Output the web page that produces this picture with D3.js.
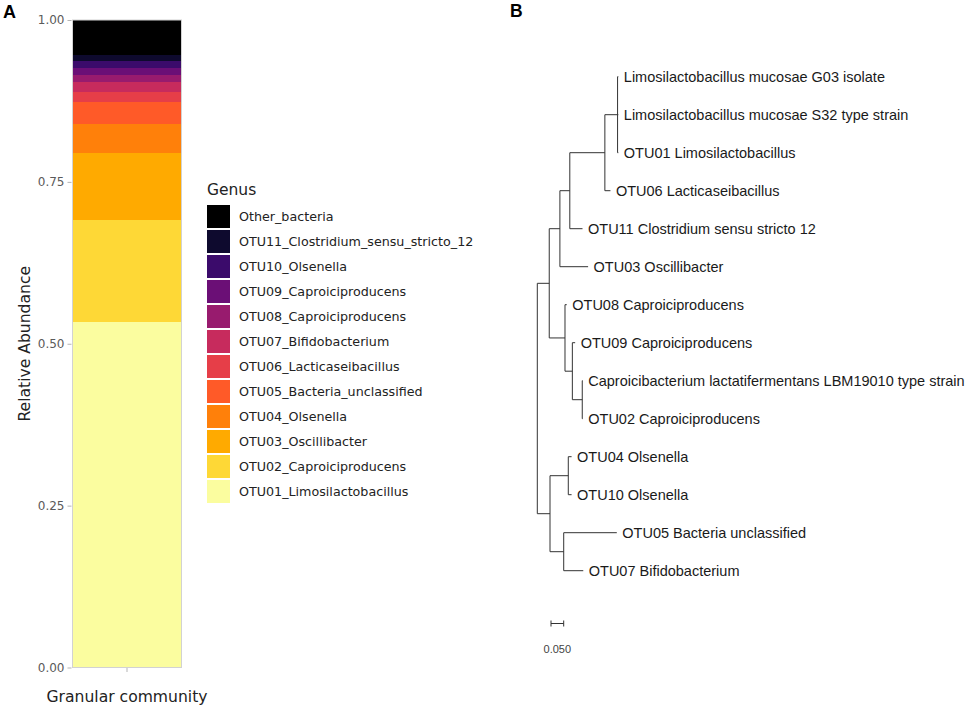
<!DOCTYPE html>
<html>
<head>
<meta charset="utf-8">
<script src="https://cdn.jsdelivr.net/npm/d3@7"></script>
<style>
  body { margin: 0; background: #fff; }
  svg { display: block; }
</style>
</head>
<body>
<svg id="chart" width="969" height="707"></svg>
<script>
// panel A: stacked relative abundance, bottom to top
var genera = ["OTU01_Limosilactobacillus", "OTU02_Caproiciproducens", "OTU03_Oscillibacter",
  "OTU04_Olsenella", "OTU05_Bacteria_unclassified", "OTU06_Lacticaseibacillus",
  "OTU07_Bifidobacterium", "OTU08_Caproiciproducens", "OTU09_Caproiciproducens",
  "OTU10_Olsenella", "OTU11_Clostridium_sensu_stricto_12", "Other_bacteria"];
var abundance = [0.533, 0.158, 0.103, 0.045, 0.034, 0.0155, 0.0155, 0.0114, 0.0108, 0.0102, 0.0088, 0.0556];
var palette = ["#fbfd9f", "#fed836", "#ffaa00", "#ff800a", "#ff5a28", "#e63e48",
  "#c72b5d", "#981b6e", "#6b0f76", "#3b0b6b", "#0e0a2e", "#000000"];
var yTicks = [0, 0.25, 0.5, 0.75, 1];
var sampleName = "Granular community";

// panel B: tree as [id, parent, branch length]
var treeNodes = [
  ["root", "", 0],
  ["A", "root", 0.047],
  ["B", "A", 0.042],
  ["C", "B", 0.039],
  ["D", "C", 0.138],
  ["E", "D", 0.050],
  ["Limosilactobacillus mucosae G03 isolate", "E", 0.003],
  ["Limosilactobacillus mucosae S32 type strain", "E", 0.003],
  ["OTU01 Limosilactobacillus", "E", 0.003],
  ["OTU06 Lacticaseibacillus", "D", 0.022],
  ["OTU11 Clostridium sensu stricto 12", "C", 0.050],
  ["OTU03 Oscillibacter", "B", 0.111],
  ["F", "A", 0.062],
  ["OTU08 Caproiciproducens", "F", 0.007],
  ["G", "F", 0.029],
  ["OTU09 Caproiciproducens", "G", 0.011],
  ["H", "G", 0.039],
  ["Caproicibacterium lactatifermentans LBM19010 type strain", "H", 0.002],
  ["OTU02 Caproiciproducens", "H", 0.002],
  ["I", "root", 0.050],
  ["J", "I", 0.072],
  ["OTU04 Olsenella", "J", 0.013],
  ["OTU10 Olsenella", "J", 0.013],
  ["K", "I", 0.054],
  ["OTU05 Bacteria unclassified", "K", 0.209],
  ["OTU07 Bifidobacterium", "K", 0.077]
];
var scaleBarLength = 0.05;

var svg = d3.select("#chart");
svg.append("rect").attr("width", 969).attr("height", 707).attr("fill", "#fff");

// ---------- panel A ----------
var sansA = "DejaVu Sans, sans-serif";
var x = d3.scaleBand().domain([sampleName]).range([72.5, 181.5]).padding(0);
var y = d3.scaleLinear().domain([0, 1]).range([667.5, 20]);

var stacked = [];
var acc = 0;
for (var i = 0; i < genera.length; i++) {
  stacked.push({ name: genera[i], y0: acc, y1: acc + abundance[i], color: palette[i] });
  acc += abundance[i];
}

var gA = svg.append("g");
gA.selectAll("rect.seg").data(stacked).enter().append("rect")
  .attr("class", "seg")
  .attr("x", x(sampleName))
  .attr("width", x.bandwidth())
  .attr("y", function(d) { return y(Math.min(d.y1, 1)); })
  .attr("height", function(d) { return y(d.y0) - y(Math.min(d.y1, 1)); })
  .attr("fill", function(d) { return d.color; })
  .attr("shape-rendering", "crispEdges");

gA.append("rect")
  .attr("x", x.range()[0]).attr("y", y(1))
  .attr("width", x.range()[1] - x.range()[0]).attr("height", y(0) - y(1))
  .attr("fill", "none").attr("stroke", "#d2d2d2").attr("stroke-width", 1);

var yAxis = gA.append("g").attr("transform", "translate(" + (x.range()[0] - 1) + ",0)")
  .call(d3.axisLeft(y).tickValues(yTicks).tickFormat(d3.format(".2f")).tickSize(4).tickPadding(3));
yAxis.select(".domain").remove();
yAxis.selectAll("line").attr("stroke", "#b5b5b5");
yAxis.selectAll("text").attr("fill", "#5a5a5a").style("font-family", sansA).style("font-size", "12px");

var xAxis = gA.append("g").attr("transform", "translate(0," + (y(0) + 0.5) + ")")
  .call(d3.axisBottom(x).tickSize(4).tickFormat(""));
xAxis.select(".domain").remove();
xAxis.selectAll("line").attr("stroke", "#b5b5b5");

gA.append("text")
  .attr("x", x(sampleName) + x.bandwidth() / 2).attr("y", 702)
  .attr("text-anchor", "middle").attr("fill", "#222")
  .style("font-family", sansA).style("font-size", "15.6px")
  .text(sampleName);

gA.append("text")
  .attr("transform", "translate(30," + ((y(0) + y(1)) / 2) + ") rotate(-90)")
  .attr("text-anchor", "middle").attr("fill", "#222")
  .style("font-family", sansA).style("font-size", "15.6px")
  .text("Relative Abundance");

// legend, top entry is the last stack
var legend = gA.append("g").attr("transform", "translate(207,0)");
legend.append("text").attr("x", 0).attr("y", 195)
  .attr("fill", "#222").style("font-family", sansA).style("font-size", "15.5px")
  .text("Genus");
var legendItems = stacked.slice().reverse();
var legendY = d3.scaleBand().domain(legendItems.map(function(d) { return d.name; }))
  .range([204, 504]).padding(0);
var item = legend.selectAll("g.item").data(legendItems).enter().append("g")
  .attr("class", "item")
  .attr("transform", function(d) { return "translate(0," + legendY(d.name) + ")"; });
item.append("rect")
  .attr("x", 0).attr("y", 1).attr("width", 23).attr("height", legendY.bandwidth() - 2)
  .attr("fill", function(d) { return d.color; });
item.append("text")
  .attr("x", 32).attr("y", legendY.bandwidth() / 2).attr("dy", "0.36em")
  .attr("fill", "#222").style("font-family", sansA).style("font-size", "12.7px")
  .text(function(d) { return d.name; });

// ---------- panel B ----------
var sansB = "Liberation Sans, Arial, sans-serif";
var root = d3.stratify()
  .id(function(d) { return d[0]; })
  .parentId(function(d) { return d[1] || null; })(treeNodes);
root.eachBefore(function(n) {
  n.dist = (n.parent ? n.parent.dist : 0) + n.data[2];
});
var leaves = root.leaves();
var tx = d3.scaleLinear().domain([0, 1]).range([537.3, 537.3 + 254]);
var ty = d3.scalePoint().domain(leaves.map(function(d) { return d.id; })).range([76.7, 570.7]);
root.eachAfter(function(n) {
  if (n.children) {
    n.yy = (n.children[0].yy + n.children[n.children.length - 1].yy) / 2;
  } else {
    n.yy = ty(n.id);
  }
});

var gB = svg.append("g");
var lineColor = "#333";
gB.selectAll("line.h").data(root.descendants().filter(function(d) { return d.parent; }))
  .enter().append("line").attr("class", "h")
  .attr("x1", function(d) { return tx(d.parent.dist); })
  .attr("x2", function(d) { return tx(d.dist); })
  .attr("y1", function(d) { return d.yy; })
  .attr("y2", function(d) { return d.yy; })
  .attr("stroke", lineColor).attr("stroke-width", 1);
gB.selectAll("line.v").data(root.descendants().filter(function(d) { return d.children; }))
  .enter().append("line").attr("class", "v")
  .attr("x1", function(d) { return tx(d.dist); })
  .attr("x2", function(d) { return tx(d.dist); })
  .attr("y1", function(d) { return d.children[0].yy; })
  .attr("y2", function(d) { return d.children[d.children.length - 1].yy; })
  .attr("stroke", lineColor).attr("stroke-width", 1);
gB.selectAll("text.leaf").data(leaves).enter().append("text")
  .attr("class", "leaf")
  .attr("x", function(d) { return tx(d.dist) + 5.5; })
  .attr("y", function(d) { return d.yy; })
  .attr("dy", "0.36em")
  .attr("fill", "#1a1a1a").style("font-family", sansB).style("font-size", "14.5px")
  .text(function(d) { return d.id; });

// scale bar
var sb = gB.append("g").attr("stroke", "#333").attr("stroke-width", 1);
var sbX = 551, sbY = 623.5;
var sbW = tx(scaleBarLength) - tx(0);
sb.append("line").attr("x1", sbX).attr("x2", sbX + sbW).attr("y1", sbY).attr("y2", sbY);
sb.append("line").attr("x1", sbX).attr("x2", sbX).attr("y1", sbY - 3).attr("y2", sbY + 3);
sb.append("line").attr("x1", sbX + sbW).attr("x2", sbX + sbW).attr("y1", sbY - 3).attr("y2", sbY + 3);
gB.append("text").attr("x", sbX + sbW / 2).attr("y", 649).attr("dy", "0.36em")
  .attr("text-anchor", "middle").attr("fill", "#444")
  .style("font-family", sansB).style("font-size", "11px")
  .text(d3.format(".3f")(scaleBarLength));

// panel letters
svg.append("text").attr("x", 3).attr("y", 17.5)
  .style("font-family", sansB).style("font-weight", "bold").style("font-size", "18px").text("A");
svg.append("text").attr("x", 510).attr("y", 17)
  .style("font-family", sansB).style("font-weight", "bold").style("font-size", "17.5px").text("B");
</script>
</body>
</html>
